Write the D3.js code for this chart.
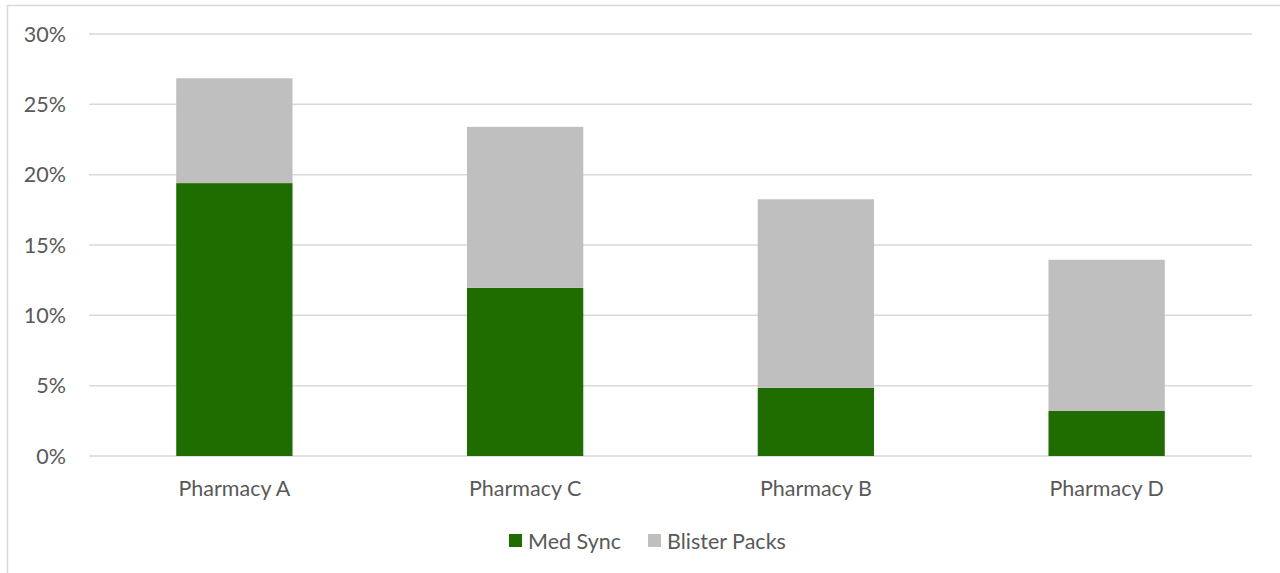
<!DOCTYPE html>
<html>
<head>
<meta charset="utf-8">
<script src="https://cdn.jsdelivr.net/npm/d3@7"></script>
<style>
  html, body { margin: 0; padding: 0; background: #ffffff; }
  svg { display: block; }
</style>
</head>
<body>
<svg id="chart" width="1280" height="573"></svg>
<script>
// Share of patients on each adherence programme, by pharmacy (percent)
const pharmacies = ["Pharmacy A", "Pharmacy C", "Pharmacy B", "Pharmacy D"];
const medSync = [19.4, 11.95, 4.85, 3.2];
const blisterPacks = [7.45, 11.45, 13.4, 10.75];
const seriesNames = ["Med Sync", "Blister Packs"];
const seriesColors = ["#1f6d00", "#bfbfbf"];
const yTicks = [0, 5, 10, 15, 20, 25, 30];

const svg = d3.select("#chart");
const W = 1280, H = 573;
const font = "Lato, 'Open Sans', sans-serif";
const fontSize = 21.5;
const textColor = "#595959";

// Chart frame (extends past the right and bottom edges)
svg.append("rect")
  .attr("x", 7.5).attr("y", 5.5)
  .attr("width", W + 20).attr("height", H + 20)
  .attr("fill", "#ffffff")
  .attr("stroke", "#d9d9d9").attr("stroke-width", 1.5);

const plot = { left: 89, right: 1252, top: 34, bottom: 456 };

const x = d3.scaleBand()
  .domain(pharmacies)
  .range([plot.left, plot.right])
  .padding(0);

const y = d3.scaleLinear()
  .domain([0, 30])
  .range([plot.bottom, plot.top]);

// Horizontal gridlines
svg.append("g")
  .selectAll("line")
  .data(yTicks)
  .join("line")
  .attr("x1", plot.left).attr("x2", plot.right)
  .attr("y1", d => y(d)).attr("y2", d => y(d))
  .attr("stroke", "#d9d9d9").attr("stroke-width", 1.5);

// Y tick labels
svg.append("g")
  .selectAll("text")
  .data(yTicks)
  .join("text")
  .attr("x", 66)
  .attr("y", d => y(d))
  .attr("dy", "0.35em")
  .attr("text-anchor", "end")
  .attr("font-family", font)
  .attr("font-size", fontSize)
  .attr("fill", textColor)
  .text(d => d + "%");

// Stacked bars
const rows = pharmacies.map((p, i) => ({ pharmacy: p, "Med Sync": medSync[i], "Blister Packs": blisterPacks[i] }));
const stacked = d3.stack().keys(seriesNames)(rows);
const barW = x.bandwidth() * 0.4;

svg.append("g")
  .selectAll("g")
  .data(stacked)
  .join("g")
  .attr("fill", (d, i) => seriesColors[i])
  .selectAll("rect")
  .data(d => d)
  .join("rect")
  .attr("x", d => x(d.data.pharmacy) + (x.bandwidth() - barW) / 2)
  .attr("y", d => y(d[1]))
  .attr("width", barW)
  .attr("height", d => y(d[0]) - y(d[1]));

// Category labels
svg.append("g")
  .selectAll("text")
  .data(pharmacies)
  .join("text")
  .attr("x", d => x(d) + x.bandwidth() / 2)
  .attr("y", 488)
  .attr("dy", "0.35em")
  .attr("text-anchor", "middle")
  .attr("font-family", font)
  .attr("font-size", fontSize)
  .attr("fill", textColor)
  .text(d => d);

// Legend
const legend = svg.append("g");
const legendX = [509, 648];
seriesNames.forEach((name, i) => {
  legend.append("rect")
    .attr("x", legendX[i]).attr("y", 534)
    .attr("width", 13).attr("height", 13)
    .attr("fill", seriesColors[i]);
  legend.append("text")
    .attr("x", legendX[i] + 19).attr("y", 541)
    .attr("dy", "0.35em")
    .attr("font-family", font)
    .attr("font-size", fontSize)
    .attr("fill", textColor)
    .text(name);
});
</script>
</body>
</html>
